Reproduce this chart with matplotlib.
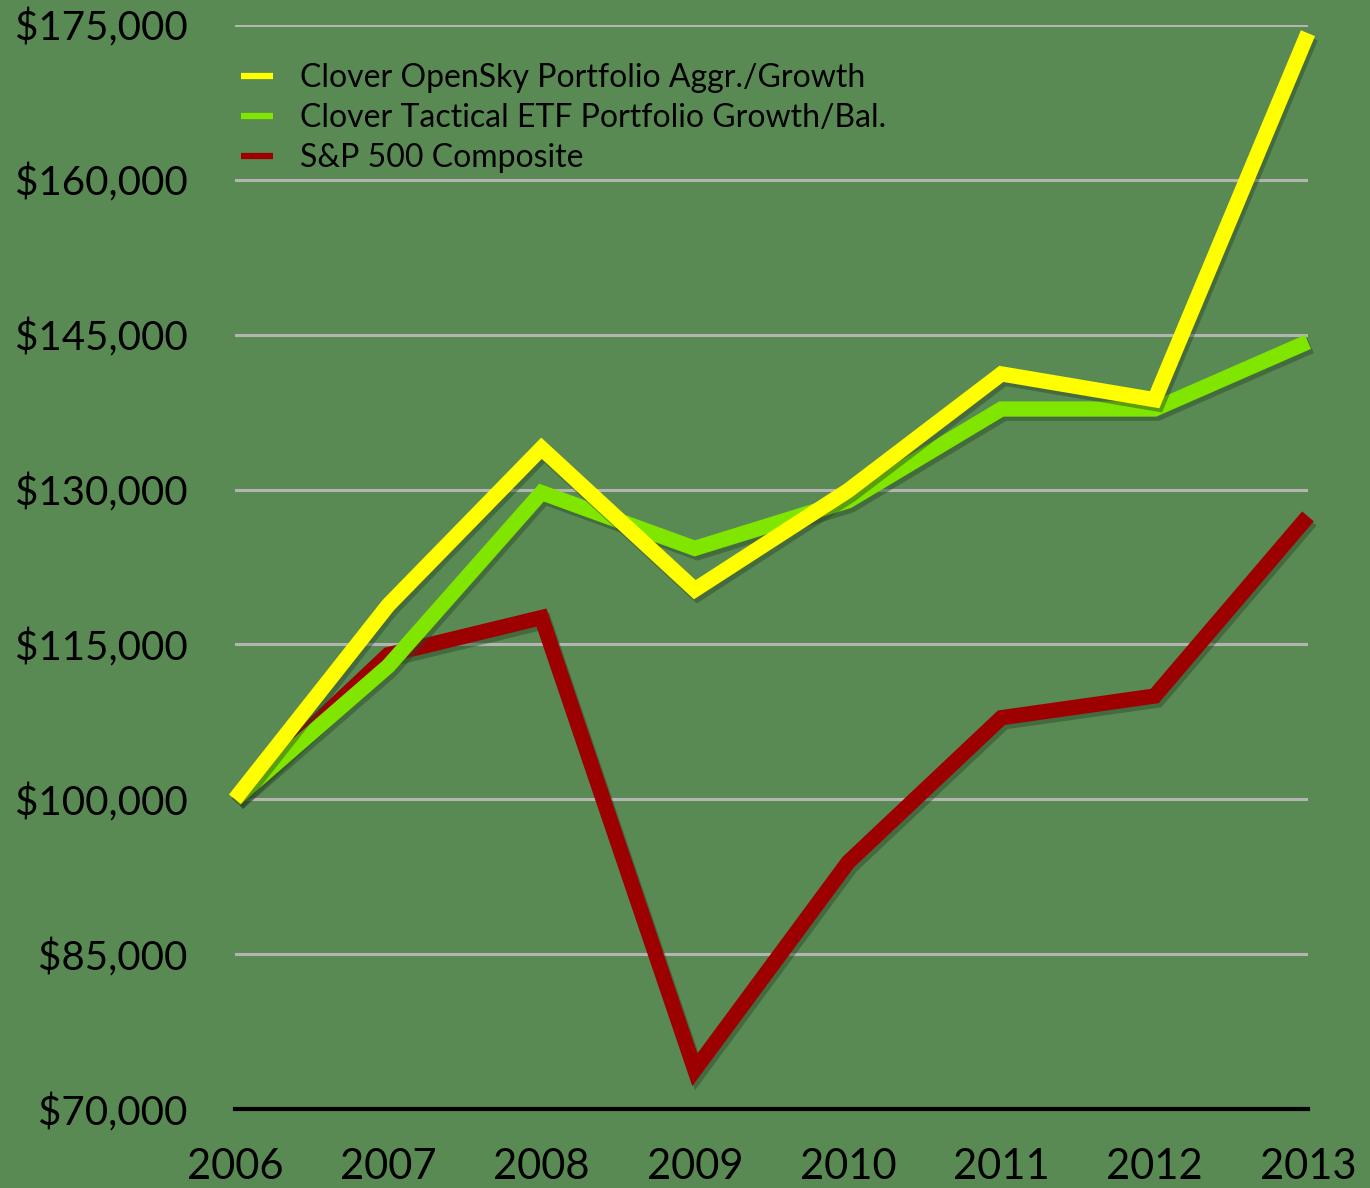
import numpy as np
import matplotlib.pyplot as plt
import matplotlib.patheffects as pe
from matplotlib.ticker import FuncFormatter

# values
years = [2006, 2007, 2008, 2009, 2010, 2011, 2012, 2013]
opensky = [100000, 118800, 134000, 120300, 129900, 141200, 138700, 174200]
tactical = [100000, 112900, 129700, 124300, 128900, 137800, 137800, 144300]
sp500 = [100000, 114000, 117600, 73800, 93900, 107900, 110000, 127400]

labels = ['Clover OpenSky Portfolio Aggr./Growth',
          'Clover Tactical ETF Portfolio Growth/Bal.',
          'S&P 500 Composite']
colors = ['#ffff00', '#80e600', '#9c0000']
yticks = [70000, 85000, 100000, 115000, 130000, 145000, 160000, 175000]

bg = '#5a8a53'
plt.rcParams['font.family'] = ['Lato', 'DejaVu Sans']

fig = plt.figure(figsize=(13.7, 11.88), dpi=100, facecolor=bg)
ax = fig.add_axes([0.1715, 0.0665, 0.7832, 0.9125])
ax.set_facecolor(bg)

shadow = [pe.SimpleLineShadow(offset=(2, -3), shadow_color='#2a4527', alpha=0.45), pe.Normal()]

series = [opensky, tactical, sp500]
# draw S&P first so the portfolios sit on top
for i in [2, 1, 0]:
    ax.plot(years, series[i], color=colors[i], lw=11, label=labels[i],
            solid_joinstyle='miter', solid_capstyle='butt', clip_on=False,
            path_effects=shadow, zorder=3 + (2 - i))

ax.set_xlim(2006, 2013)
ax.set_ylim(70000, 175000)
ax.set_yticks(yticks)
ax.set_xticks(years)
ax.yaxis.set_major_formatter(FuncFormatter(lambda v, p: '${:,.0f}'.format(v)))
ax.tick_params(length=0, labelcolor='black')
ax.tick_params(axis='y', pad=34, labelsize=29)
ax.tick_params(axis='x', pad=28, labelsize=30)
for s in ['top', 'right', 'left']:
    ax.spines[s].set_visible(False)
ax.spines['bottom'].set_color('black')
ax.spines['bottom'].set_linewidth(3)
ax.spines['bottom'].set_zorder(2)
for y in yticks[1:]:
    ax.axhline(y, color='#b4b4b4', lw=2.2, zorder=1)

handles, labs = ax.get_legend_handles_labels()
hmap = dict(zip(labs, handles))
leg = ax.legend([hmap[l] for l in labels], labels, loc='upper left',
                bbox_to_anchor=(0.0, 0.9704), frameon=False, fontsize=23,
                handlelength=1.0, handletextpad=0.85, labelspacing=0.31,
                borderaxespad=0, borderpad=0.2)
for h in leg.legend_handles:
    h.set_linewidth(4.5)
    h.set_path_effects([])

fig.savefig('out.png', dpi=100, facecolor=bg)
